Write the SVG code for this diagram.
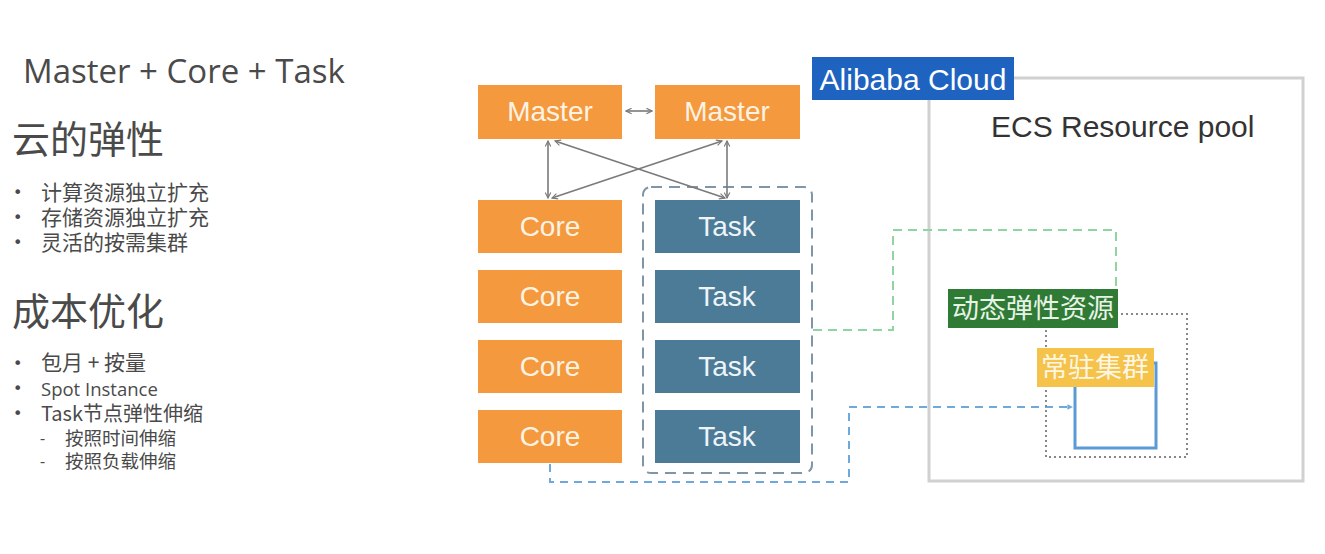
<svg xmlns="http://www.w3.org/2000/svg" width="1325" height="554" viewBox="0 0 1325 554">
<style>
.txt{font-family:"Open Sans","Noto Sans CJK SC",sans-serif;fill:#4a4a4a}
.cjk{font-family:"Noto Sans CJK SC","Open Sans",sans-serif;fill:#4a4a4a}
.bul{font-family:"DejaVu Sans",sans-serif;fill:#4a4a4a;font-size:16px}
.orange{fill:#f4993d}
.teal{fill:#4b7b97}
.lbl{font-family:"Liberation Sans",Arial,sans-serif;font-size:28px;fill:#fdf3e4;text-anchor:middle}
.tlbl{font-family:"Liberation Sans",Arial,sans-serif;font-size:28px;fill:#eef4f8;text-anchor:middle}
.arr{stroke:#7a7a7a;stroke-width:1.6;fill:none;marker-start:url(#ah);marker-end:url(#ah)}
</style>
<defs>
<marker id="ah" viewBox="0 0 10 10" refX="9" refY="5" markerWidth="7" markerHeight="7" orient="auto-start-reverse" markerUnits="userSpaceOnUse">
<path d="M1,1 L9,5 L1,9" fill="none" stroke="#7a7a7a" stroke-width="1.6"/>
</marker>
<marker id="bh" viewBox="0 0 10 10" refX="9" refY="5" markerWidth="7" markerHeight="7" orient="auto" markerUnits="userSpaceOnUse">
<path d="M1,1 L9,5 L1,9 z" fill="#6fa8dc"/>
</marker>
</defs>
<rect width="1325" height="554" fill="#ffffff"/>

<g id="left-text">
<text class="txt" x="23" y="83" font-size="33" fill="#444">Master + Core + Task</text>
<text class="cjk" x="12" y="153" font-size="38">云的弹性</text>
<text class="bul" x="13" y="198">•</text>
<text class="cjk" x="41" y="200" font-size="21">计算资源独立扩充</text>
<text class="bul" x="13" y="223">•</text>
<text class="cjk" x="41" y="225" font-size="21">存储资源独立扩充</text>
<text class="bul" x="13" y="248">•</text>
<text class="cjk" x="41" y="250" font-size="21">灵活的按需集群</text>
<text class="cjk" x="12" y="325" font-size="38">成本优化</text>
<text class="bul" x="13" y="369">•</text>
<text class="cjk" x="41" y="370" font-size="21">包月 + 按量</text>
<text class="bul" x="13" y="394">•</text>
<text class="txt" x="41" y="396" font-size="18.5">Spot Instance</text>
<text class="bul" x="13" y="419">•</text>
<text class="cjk" x="41" y="421" font-size="20">Task节点弹性伸缩</text>
<text class="txt" x="40" y="444" font-size="16">-</text>
<text class="cjk" x="65" y="445" font-size="18.5">按照时间伸缩</text>
<text class="txt" x="40" y="467" font-size="16">-</text>
<text class="cjk" x="65" y="468" font-size="18.5">按照负载伸缩</text>
</g>

<g id="resource-pool">
<rect x="929" y="78" width="374" height="403" fill="none" stroke="#d0d0d0" stroke-width="3"/>
<text x="991" y="137" font-family="Liberation Sans, Arial, sans-serif" font-size="30" fill="#333">ECS Resource pool</text>
</g>

<g id="alibaba-cloud">
<rect x="812" y="57" width="202" height="43" fill="#1f63c0"/>
<text x="913" y="90" font-family="Liberation Sans, Arial, sans-serif" font-size="30" fill="#ffffff" text-anchor="middle">Alibaba Cloud</text>
</g>

<g id="task-group">
<rect x="643" y="187" width="169" height="286" rx="8" fill="none" stroke="#7f96a8" stroke-width="2" stroke-dasharray="11 7"/>
</g>

<g id="connectors">
<line class="arr" x1="626" y1="111" x2="652" y2="111"/>
<line class="arr" x1="548" y1="141" x2="548" y2="198"/>
<line class="arr" x1="727" y1="141" x2="727" y2="198"/>
<line class="arr" x1="555" y1="141" x2="725" y2="198"/>
<line class="arr" x1="722" y1="141" x2="552" y2="198"/>
<polyline points="813,330 893,330 893,230 1116,230 1116,290" fill="none" stroke="#90d4a0" stroke-width="2" stroke-dasharray="9 6"/>
<polyline points="550,464 550,482 849,482 849,407 1073,407" fill="none" stroke="#6fa8dc" stroke-width="2" stroke-dasharray="8 6" marker-end="url(#bh)"/>
<rect x="1046" y="314" width="141" height="143" fill="none" stroke="#888" stroke-width="2" stroke-dasharray="2 3"/>
</g>

<g id="master-1"><rect class="orange" x="478" y="85" width="144" height="54"/><text class="lbl" x="550" y="121">Master</text></g>
<g id="master-2"><rect class="orange" x="655" y="85" width="145" height="54"/><text class="lbl" x="727" y="121">Master</text></g>

<g id="core-1"><rect class="orange" x="478" y="200" width="144" height="53"/><text class="lbl" x="550" y="236">Core</text></g>
<g id="core-2"><rect class="orange" x="478" y="270" width="144" height="53"/><text class="lbl" x="550" y="306">Core</text></g>
<g id="core-3"><rect class="orange" x="478" y="340" width="144" height="53"/><text class="lbl" x="550" y="376">Core</text></g>
<g id="core-4"><rect class="orange" x="478" y="410" width="144" height="53"/><text class="lbl" x="550" y="446">Core</text></g>

<g id="task-1"><rect class="teal" x="655" y="200" width="145" height="53"/><text class="tlbl" x="727" y="236">Task</text></g>
<g id="task-2"><rect class="teal" x="655" y="270" width="145" height="53"/><text class="tlbl" x="727" y="306">Task</text></g>
<g id="task-3"><rect class="teal" x="655" y="340" width="145" height="53"/><text class="tlbl" x="727" y="376">Task</text></g>
<g id="task-4"><rect class="teal" x="655" y="410" width="145" height="53"/><text class="tlbl" x="727" y="446">Task</text></g>

<g id="resident-cluster-box">
<rect x="1075" y="363" width="81" height="85" fill="none" stroke="#5b9bd5" stroke-width="3"/>
</g>

<g id="dynamic-resource">
<rect x="948" y="289" width="170" height="39" fill="#2f7a34"/>
<text x="1033" y="318" font-family="Noto Sans CJK SC, sans-serif" font-size="27" fill="#e8f3e8" text-anchor="middle">动态弹性资源</text>
</g>

<g id="resident-cluster">
<rect x="1037" y="348" width="117" height="39" fill="#f5c24a"/>
<text x="1095" y="377" font-family="Noto Sans CJK SC, sans-serif" font-size="27" fill="#fdf6e3" text-anchor="middle">常驻集群</text>
</g>
</svg>
